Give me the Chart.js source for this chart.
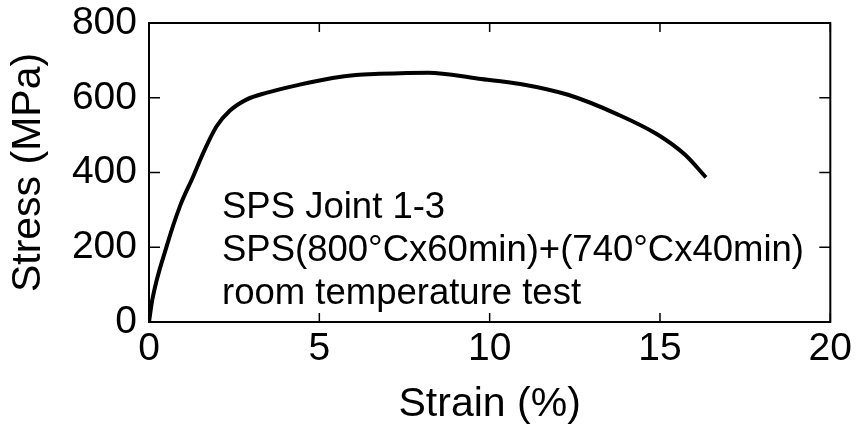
<!DOCTYPE html>
<html>
<head>
<meta charset="utf-8">
<script src="https://cdn.jsdelivr.net/npm/chart.js@4.4.1/dist/chart.umd.min.js"></script>
<style>html,body{margin:0;background:#fff}</style>
</head>
<body>
<canvas id="c" width="856" height="431"></canvas>
<script>
/* stress-strain curve, SPS joint 1-3 */
var strain = [0, 0.1, 0.52, 0.91, 1.3, 1.59, 1.98, 2.37, 2.86, 3.44, 4.42, 5.39, 6.07, 6.75, 8.2, 9.68, 10.9, 12.3, 13.77, 14.94, 15.73, 16.35];
var stress = [0, 61, 203, 310, 390, 452, 523, 565, 595, 613, 635, 653, 661, 664, 667, 651, 637, 608, 555, 501, 448, 387];
var xTicks = [0, 5, 10, 15, 20];
var yTicks = [0, 200, 400, 600, 800];
var noteLines = ['SPS Joint 1-3', 'SPS(800\u00b0Cx60min)+(740\u00b0Cx40min)', 'room temperature test'];

var FONT = '"Liberation Sans", Arial, Helvetica, sans-serif';

// box round the plot, inward tick marks on all four sides, and the note
var frame = {
  id: 'frame',
  afterDraw: function (chart) {
    var a = chart.chartArea, ctx = chart.ctx;
    var xs = chart.scales.x, ys = chart.scales.y;
    ctx.save();
    ctx.strokeStyle = '#000';
    ctx.lineWidth = 2;
    ctx.strokeRect(a.left, a.top, a.right - a.left, a.bottom - a.top);
    ctx.lineWidth = 1.5;
    ctx.beginPath();
    xTicks.forEach(function (v) {
      var p = xs.getPixelForValue(v);
      ctx.moveTo(p, a.bottom); ctx.lineTo(p, a.bottom - 9);
      ctx.moveTo(p, a.top); ctx.lineTo(p, a.top + 9);
    });
    yTicks.forEach(function (v) {
      var p = ys.getPixelForValue(v);
      ctx.moveTo(a.left, p); ctx.lineTo(a.left + 11, p);
      ctx.moveTo(a.right, p); ctx.lineTo(a.right - 11, p);
    });
    ctx.stroke();
    ctx.fillStyle = '#000';
    ctx.font = '36.5px ' + FONT;
    ctx.textAlign = 'left';
    ctx.textBaseline = 'alphabetic';
    noteLines.forEach(function (s, i) {
      ctx.fillText(s, a.left + 73, a.top + 195 + i * 43);
    });
    ctx.restore();
  }
};

var pts = strain.map(function (x, i) { return { x: x, y: stress[i] }; });

new Chart(document.getElementById('c'), {
  type: 'line',
  data: {
    datasets: [{
      data: pts,
      borderColor: '#000',
      borderWidth: 4,
      pointRadius: 0,
      fill: false,
      cubicInterpolationMode: 'monotone'
    }]
  },
  options: {
    responsive: false,
    animation: false,
    layout: { padding: { top: 23, right: 24, left: 0, bottom: 0 } },
    plugins: { legend: { display: false }, tooltip: { enabled: false } },
    scales: {
      x: {
        type: 'linear', min: 0, max: 20,
        afterBuildTicks: function (s) { s.ticks = xTicks.map(function (v) { return { value: v }; }); },
        afterFit: function (s) { s.height = 109; },
        grid: { display: false, drawTicks: false },
        border: { display: false },
        ticks: { color: '#000', font: { family: FONT, size: 39 }, padding: 4, maxRotation: 0 },
        title: { display: true, text: 'Strain (%)', color: '#000', font: { family: FONT, size: 41 }, padding: { top: 0, bottom: 2 } }
      },
      y: {
        type: 'linear', min: 0, max: 800,
        afterBuildTicks: function (s) { s.ticks = yTicks.map(function (v) { return { value: v }; }); },
        afterFit: function (s) { s.width = 149; s.paddingTop = 0; s.paddingBottom = 0; },
        grid: { display: false, drawTicks: false },
        border: { display: false },
        ticks: { color: '#000', font: { family: FONT, size: 39 }, padding: 12 },
        title: { display: true, text: 'Stress (MPa)', color: '#000', font: { family: FONT, size: 41 }, padding: { top: 4, bottom: 0 } }
      }
    }
  },
  plugins: [frame]
});
</script>
</body>
</html>
